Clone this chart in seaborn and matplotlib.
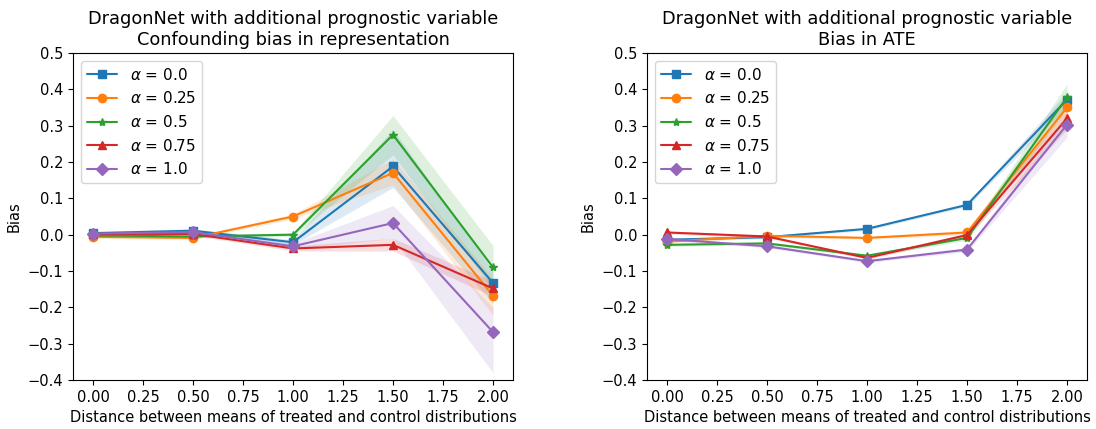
import numpy as np
import pandas as pd
import matplotlib
matplotlib.use("Agg")
import matplotlib.pyplot as plt
import seaborn as sns

distances = [0.0, 0.5, 1.0, 1.5, 2.0]
alphas = ["0.0", "0.25", "0.5", "0.75", "1.0"]

# Left panel: confounding bias in representation (mean, lower, upper)
rep_mean = {
    "0.0":  [0.004, 0.011, -0.021, 0.188, -0.133],
    "0.25": [-0.006, -0.009, 0.050, 0.170, -0.168],
    "0.5":  [-0.002, -0.005, 0.000, 0.275, -0.090],
    "0.75": [0.002, 0.002, -0.038, -0.028, -0.148],
    "1.0":  [0.003, 0.007, -0.032, 0.032, -0.268],
}
rep_low = {
    "0.0":  [-0.002, 0.006, -0.028, 0.130, -0.190],
    "0.25": [-0.010, -0.013, 0.043, 0.137, -0.222],
    "0.5":  [-0.006, -0.009, -0.005, 0.220, -0.150],
    "0.75": [-0.002, -0.002, -0.045, -0.045, -0.170],
    "1.0":  [-0.002, 0.002, -0.040, -0.010, -0.380],
}
rep_high = {
    "0.0":  [0.010, 0.016, -0.014, 0.290, -0.100],
    "0.25": [-0.002, -0.005, 0.057, 0.208, -0.120],
    "0.5":  [0.002, -0.001, 0.005, 0.328, -0.030],
    "0.75": [0.006, 0.006, -0.031, -0.010, -0.128],
    "1.0":  [0.008, 0.012, -0.024, 0.080, -0.200],
}

# Right panel: bias in ATE (mean, lower, upper)
ate_mean = {
    "0.0":  [-0.014, -0.007, 0.016, 0.082, 0.372],
    "0.25": [-0.019, -0.003, -0.009, 0.006, 0.350],
    "0.5":  [-0.028, -0.024, -0.058, -0.009, 0.378],
    "0.75": [0.006, -0.005, -0.064, -0.001, 0.320],
    "1.0":  [-0.012, -0.032, -0.073, -0.041, 0.303],
}
ate_low = {
    "0.0":  [-0.018, -0.011, 0.012, 0.077, 0.352],
    "0.25": [-0.023, -0.007, -0.013, 0.000, 0.320],
    "0.5":  [-0.032, -0.028, -0.062, -0.016, 0.345],
    "0.75": [0.002, -0.009, -0.068, -0.007, 0.290],
    "1.0":  [-0.016, -0.036, -0.077, -0.047, 0.268],
}
ate_high = {
    "0.0":  [-0.010, -0.003, 0.020, 0.087, 0.392],
    "0.25": [-0.015, 0.001, -0.005, 0.012, 0.380],
    "0.5":  [-0.024, -0.020, -0.054, -0.002, 0.415],
    "0.75": [0.010, -0.001, -0.060, 0.005, 0.345],
    "1.0":  [-0.008, -0.028, -0.069, -0.035, 0.330],
}

titles = [
    "DragonNet with additional prognostic variable\nConfounding bias in representation",
    "DragonNet with additional prognostic variable\nBias in ATE",
]
xlabel = "Distance between means of treated and control distributions"
ylabel = "Bias"
markers = ["s", "o", "*", "^", "D"]
colors = ["#1f77b4", "#ff7f0e", "#2ca02c", "#d62728", "#9467bd"]

sns.set_style("ticks", rc={
    "text.color": "black", "axes.labelcolor": "black",
    "xtick.color": "black", "ytick.color": "black",
    "axes.edgecolor": "black",
})
plt.rcParams["font.family"] = ["DejaVu Sans"]
plt.rcParams["xtick.major.size"] = 3.5
plt.rcParams["ytick.major.size"] = 3.5

fig = plt.figure(figsize=(10.96, 4.29), dpi=100)
ax1 = fig.add_axes([73 / 1096, 49 / 429, 440 / 1096, 327 / 429])
ax2 = fig.add_axes([647 / 1096, 49 / 429, 440 / 1096, 327 / 429])

panels = [(ax1, rep_mean, rep_low, rep_high), (ax2, ate_mean, ate_low, ate_high)]
for i, (ax, mean, low, high) in enumerate(panels):
    for a, m, c in zip(alphas, markers, colors):
        df = pd.DataFrame({"x": distances, "y": mean[a]})
        sns.lineplot(data=df, x="x", y="y", ax=ax, color=c, marker=m,
                     markersize=6, markeredgewidth=1, markeredgecolor=c,
                     label=r"$\alpha$ = " + a, linewidth=1.5)
        ax.fill_between(distances, low[a], high[a], color=c, alpha=0.15, linewidth=0)
    ax.set_ylim(-0.4, 0.5)
    ax.set_yticks(np.round(np.arange(-0.4, 0.51, 0.1), 1))
    ax.set_xticks(np.arange(0, 2.01, 0.25))
    ax.set_xlim(-0.1, 2.1)
    ax.set_title(titles[i], fontsize=12.8)
    ax.set_xlabel(xlabel, fontsize=10.5)
    ax.set_ylabel(ylabel, fontsize=10.5)
    ax.tick_params(labelsize=10.5)
    for s in ax.spines.values():
        s.set_visible(True)
        s.set_color("black")
    ax.legend(loc="upper left", fontsize=11)

fig.savefig("out.png", dpi=100)
